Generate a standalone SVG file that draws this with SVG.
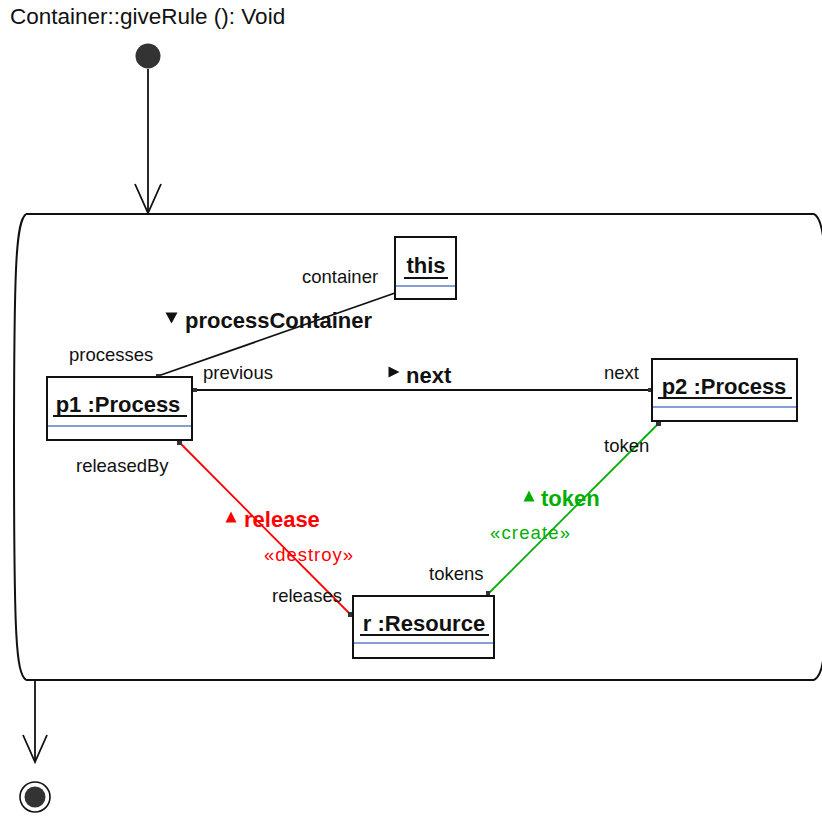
<svg xmlns="http://www.w3.org/2000/svg" width="822" height="820" viewBox="0 0 822 820">
<style>
text{font-family:"Liberation Sans",Arial,sans-serif;fill:#111}
.lbl{font-size:18.5px}
.node{font-size:22px;font-weight:bold}
.role{font-size:22px;font-weight:bold}
.box{fill:#fff;stroke:#111;stroke-width:2}
.sep{stroke:#5a7fc8;stroke-width:1.3}
.ul{stroke:#111;stroke-width:2}
.end{fill:#333}
.ln{fill:none;stroke-width:1.8}
</style>
<rect width="822" height="820" fill="#fff"/>
<text x="10" y="24" style="font-size:22.5px" fill="#222">Container::giveRule (): Void</text>
<g id="initial"><circle cx="148" cy="56" r="12.5" fill="#333"/></g>
<g id="container">
<path d="M26,214 C16,222 14,262 14,447 C14,640 16,672 26,680" fill="none" stroke="#111" stroke-width="2"/>
<line x1="26" y1="214" x2="814" y2="214" stroke="#111" stroke-width="2"/>
<line x1="26" y1="680" x2="814" y2="680" stroke="#111" stroke-width="2"/>
<path d="M814,214 C822,218 826,240 826,300 L826,600 C826,660 822,676 814,680" fill="none" stroke="#111" stroke-width="2"/>
</g>
<g id="final"><circle cx="35" cy="797" r="15" fill="#fff" stroke="#111" stroke-width="1.6"/><circle cx="35" cy="797" r="10.5" fill="#333"/></g>
<g id="connectors">
<line x1="148" y1="69" x2="148" y2="213" stroke="#111" stroke-width="1.8"/>
<polyline points="135,184 148,213 161,184" fill="none" stroke="#111" stroke-width="1.8"/>
<line x1="35" y1="681" x2="35" y2="762" stroke="#111" stroke-width="1.8"/>
<polyline points="23,735 35,762 47,735" fill="none" stroke="#111" stroke-width="1.8"/>
<line class="ln" x1="158" y1="376" x2="395" y2="293" stroke="#111"/>
<rect class="end" x="156" y="374" width="5" height="5"/>
<line class="ln" x1="193" y1="390" x2="652" y2="390" stroke="#111"/>
<rect class="end" x="193" y="388" width="4" height="4"/>
<rect class="end" x="648" y="388" width="4" height="4"/>
<line class="ln" x1="180" y1="443" x2="351" y2="615" stroke="#f00"/>
<rect class="end" x="177" y="441" width="5" height="4"/>
<rect class="end" x="348" y="612" width="4" height="5"/>
<line class="ln" x1="658" y1="424" x2="488" y2="594" stroke="#00b000"/>
<rect class="end" x="656" y="422" width="5" height="4"/>
<rect class="end" x="486" y="591" width="4" height="4"/>
</g>
<g id="labels">
<text class="lbl" x="302" y="283">container</text>
<path d="M165.5,312.5 L177.5,312.5 L171.5,323.5 Z" fill="#111"/>
<text class="role" x="185" y="328">processContainer</text>
<text class="lbl" x="69" y="361">processes</text>
<text class="lbl" x="203" y="379">previous</text>
<path d="M388.5,366.5 L399.5,372 L388.5,377.5 Z" fill="#111"/>
<text class="role" x="406" y="383">next</text>
<text class="lbl" x="604" y="379">next</text>
<text class="lbl" x="76" y="472">releasedBy</text>
<text class="lbl" x="604" y="452">token</text>
<path d="M523.5,501.5 L534.5,501.5 L529,490.5 Z" fill="#00b000"/>
<text class="role" x="541" y="506" style="fill:#00b000">token</text>
<text class="lbl" x="490" y="539" style="fill:#00b000" textLength="80" lengthAdjust="spacing">«create»</text>
<text class="lbl" x="429" y="580">tokens</text>
<path d="M225.5,522.5 L236.5,522.5 L231,511.5 Z" fill="#f00"/>
<text class="role" x="244" y="527" style="fill:#f00">release</text>
<text class="lbl" x="264" y="561" style="fill:#f00" textLength="89" lengthAdjust="spacing">«destroy»</text>
<text class="lbl" x="272" y="602">releases</text>
</g>
<g id="this">
<rect class="box" x="395" y="237" width="61" height="62"/>
<text class="node" x="426" y="273" text-anchor="middle">this</text>
<line class="ul" x1="404" y1="278" x2="448" y2="278"/>
<line class="sep" x1="396" y1="286" x2="455" y2="286"/>
</g>
<g id="p1">
<rect class="box" x="47" y="377" width="145" height="63"/>
<text class="node" x="118" y="412" text-anchor="middle">p1 :Process</text>
<line class="ul" x1="53" y1="416" x2="187" y2="416"/>
<line class="sep" x1="48" y1="426" x2="191" y2="426"/>
</g>
<g id="p2">
<rect class="box" x="652" y="359" width="145" height="62"/>
<text class="node" x="724" y="394" text-anchor="middle">p2 :Process</text>
<line class="ul" x1="658" y1="398" x2="792" y2="398"/>
<line class="sep" x1="653" y1="407" x2="796" y2="407"/>
</g>
<g id="r">
<rect class="box" x="353" y="596" width="141" height="62"/>
<text class="node" x="424" y="631" text-anchor="middle">r :Resource</text>
<line class="ul" x1="360" y1="635" x2="489" y2="635"/>
<line class="sep" x1="354" y1="643" x2="493" y2="643"/>
</g>
</svg>
